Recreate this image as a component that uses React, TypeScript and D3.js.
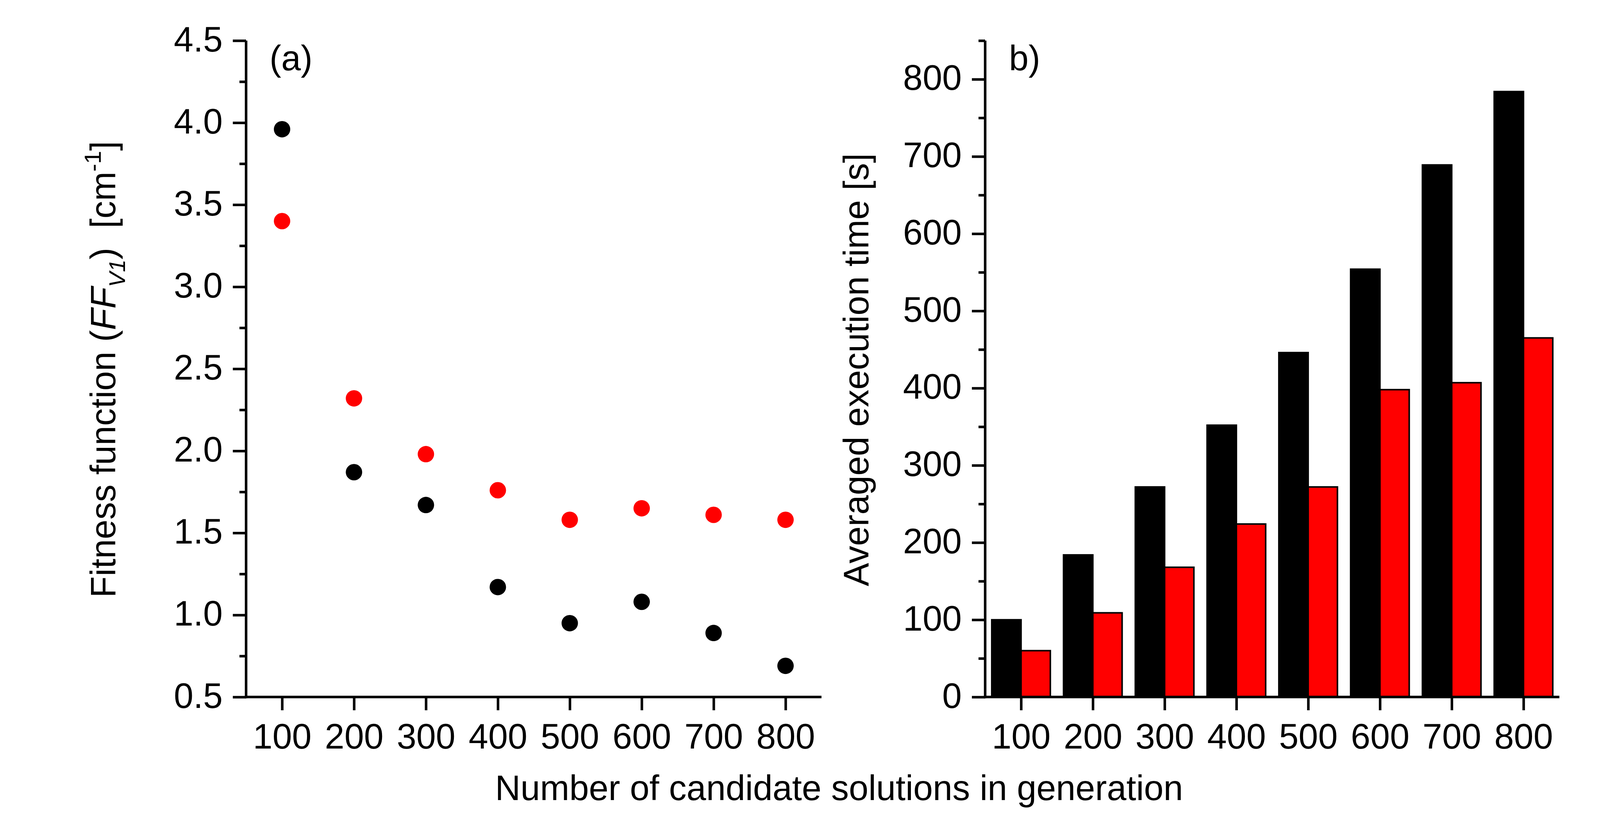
import { useEffect, useRef } from "react";
import * as d3 from "d3";

// candidate solutions per generation (x categories)
const generations = [100, 200, 300, 400, 500, 600, 700, 800];

// panel (a): fitness function FF_V1 [cm^-1]
const fitnessBlack = [3.96, 1.87, 1.67, 1.17, 0.95, 1.08, 0.89, 0.69];
const fitnessRed = [3.40, 2.32, 1.98, 1.76, 1.58, 1.65, 1.61, 1.58];
const fitnessTicks = [0.5, 1.0, 1.5, 2.0, 2.5, 3.0, 3.5, 4.0, 4.5];
const fitnessMinor = [0.75, 1.25, 1.75, 2.25, 2.75, 3.25, 3.75, 4.25];

// panel (b): averaged execution time [s]
const timeBlack = [100, 184, 272, 352, 446, 554, 689, 784];
const timeRed = [60, 109, 168, 224, 272, 398, 407, 465];
const timeTicks = [0, 100, 200, 300, 400, 500, 600, 700, 800];
const timeMinor = [50, 150, 250, 350, 450, 550, 650, 750, 850];

const FONT = "'Liberation Sans', Arial, Helvetica, sans-serif";
const FS = 90;
const LW = 6.5;

export default function App() {
  const svgRef = useRef<SVGSVGElement | null>(null);

  useEffect(() => {
    if (!svgRef.current) return;
    const svg = d3.select(svgRef.current);
    svg.selectAll("*").remove();

    const top = 104;
    const bottom = 1785;

    const drawAxes = (
      g: d3.Selection<SVGGElement, unknown, null, undefined>,
      x: d3.ScaleLinear<number, number>,
      y: d3.ScaleLinear<number, number>,
      majors: number[],
      minors: number[],
      fmt: (d: number) => string
    ) => {
      const [x0, x1] = x.range();

      const xAxis = g.append("g")
        .attr("transform", `translate(0,${bottom})`)
        .call(
          d3.axisBottom(x)
            .tickValues(generations)
            .tickSize(34)
            .tickSizeOuter(0)
            .tickPadding(34)
            .tickFormat((d) => String(d))
        );
      xAxis.select(".domain").remove();

      const yAxis = g.append("g")
        .attr("transform", `translate(${x0},0)`)
        .call(
          d3.axisLeft(y)
            .tickValues(majors)
            .tickSize(34)
            .tickSizeOuter(0)
            .tickPadding(26)
            .tickFormat((d) => fmt(d as number))
        );
      yAxis.select(".domain").remove();

      const yMinor = g.append("g")
        .attr("transform", `translate(${x0},0)`)
        .call(d3.axisLeft(y).tickValues(minors).tickSize(17).tickFormat(() => ""));
      yMinor.select(".domain").remove();

      [xAxis, yAxis, yMinor].forEach((a) => {
        a.selectAll("line").attr("stroke", "#000").attr("stroke-width", LW);
        a.selectAll("text")
          .attr("fill", "#000")
          .style("font-family", FONT)
          .style("font-size", `${FS}px`);
      });
      yAxis.selectAll("text").attr("dy", "0.3em");

      g.append("line")
        .attr("x1", x0).attr("x2", x0)
        .attr("y1", top).attr("y2", bottom + LW / 2)
        .attr("stroke", "#000").attr("stroke-width", LW);
      g.append("line")
        .attr("x1", x0 - LW / 2).attr("x2", x1)
        .attr("y1", bottom).attr("y2", bottom)
        .attr("stroke", "#000").attr("stroke-width", LW);
    };

    // ---- panel (a): scatter
    const xa = d3.scaleLinear().domain([50, 850]).range([630, 2103]);
    const ya = d3.scaleLinear().domain([0.5, 4.5]).range([bottom, top]);
    const ga = svg.append("g");

    ga.selectAll(".dot-black")
      .data(generations)
      .join("circle")
      .attr("cx", (d) => xa(d))
      .attr("cy", (_d, i) => ya(fitnessBlack[i]))
      .attr("r", 21)
      .attr("fill", "#000");
    ga.selectAll(".dot-red")
      .data(generations)
      .join("circle")
      .attr("cx", (d) => xa(d))
      .attr("cy", (_d, i) => ya(fitnessRed[i]))
      .attr("r", 21)
      .attr("fill", "#ff0000");

    drawAxes(ga, xa, ya, fitnessTicks, fitnessMinor, d3.format(".1f"));

    ga.append("text")
      .attr("x", 690).attr("y", 180)
      .style("font-family", FONT).style("font-size", `${FS}px`)
      .text("(a)");

    const ta = ga.append("text")
      .attr("transform", "translate(295,946) rotate(-90)")
      .attr("text-anchor", "middle")
      .style("font-family", FONT)
      .style("font-size", `${FS}px`)
      .style("white-space", "pre");
    ta.append("tspan").text("Fitness function (");
    ta.append("tspan").style("font-style", "italic").text("FF");
    ta.append("tspan").style("font-style", "italic").style("font-size", "58px").attr("dy", 25).text("V1");
    ta.append("tspan").attr("dy", -25).text(")  [cm");
    ta.append("tspan").style("font-size", "60px").attr("dy", -37).text("-1");
    ta.append("tspan").attr("dy", 37).text("]");

    // ---- panel (b): grouped bars
    const xb = d3.scaleLinear().domain([50, 850]).range([2522, 3992]);
    const yb = d3.scaleLinear().domain([0, 850]).range([bottom, top]);
    const gb = svg.append("g");
    const bw = (xb(150) - xb(50)) * 0.408;

    gb.selectAll(".bar-black")
      .data(generations)
      .join("rect")
      .attr("x", (d) => xb(d) - bw)
      .attr("y", (_d, i) => yb(timeBlack[i]))
      .attr("width", bw)
      .attr("height", (_d, i) => yb(0) - yb(timeBlack[i]))
      .attr("fill", "#000")
      .attr("stroke", "#000")
      .attr("stroke-width", 4);
    gb.selectAll(".bar-red")
      .data(generations)
      .join("rect")
      .attr("x", (d) => xb(d))
      .attr("y", (_d, i) => yb(timeRed[i]))
      .attr("width", bw)
      .attr("height", (_d, i) => yb(0) - yb(timeRed[i]))
      .attr("fill", "#ff0000")
      .attr("stroke", "#000")
      .attr("stroke-width", 4);

    drawAxes(gb, xb, yb, timeTicks, timeMinor, (d) => String(d));

    gb.append("text")
      .attr("x", 2583).attr("y", 180)
      .style("font-family", FONT).style("font-size", `${FS}px`)
      .text("b)");

    gb.append("text")
      .attr("transform", "translate(2223,947) rotate(-90)")
      .attr("text-anchor", "middle")
      .style("font-family", FONT)
      .style("font-size", `${FS}px`)
      .text("Averaged execution time [s]");

    // shared x title
    svg.append("text")
      .attr("x", 2148).attr("y", 2049)
      .attr("text-anchor", "middle")
      .style("font-family", FONT)
      .style("font-size", `${FS}px`)
      .text("Number of candidate solutions in generation");
  }, []);

  return (
    <svg
      ref={svgRef}
      width={4200}
      height={2100}
      style={{ position: "absolute", left: 0, top: 0, background: "#fff" }}
    />
  );
}
